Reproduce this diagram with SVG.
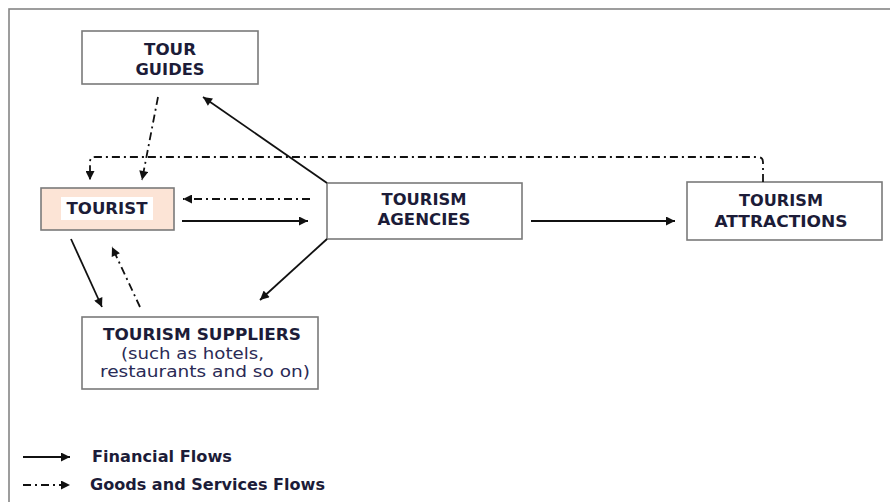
<svg xmlns="http://www.w3.org/2000/svg" width="890" height="502" viewBox="0 0 890 502">
<defs>
<marker id="ah" viewBox="0 0 10 10" refX="10" refY="5" markerWidth="11" markerHeight="9" markerUnits="userSpaceOnUse" orient="auto">
<path d="M0,0 L10,5 L0,10 z" fill="#111"/>
</marker>
<style>
.box{fill:#fff;stroke:#7a7a7a;stroke-width:1.6}
.t{font-family:"DejaVu Sans",Verdana,sans-serif;font-weight:bold;font-size:15px;fill:#1c1c38;text-anchor:middle}
.r{font-family:"DejaVu Sans",Verdana,sans-serif;font-size:15.5px;fill:#2a2a55}
.lg{font-family:"DejaVu Sans",Verdana,sans-serif;font-weight:bold;font-size:15px;fill:#1c1c38}
.fin{fill:none;stroke:#111;stroke-width:1.8;marker-end:url(#ah)}
.gs{fill:none;stroke:#111;stroke-width:1.8;stroke-dasharray:8 4 2 4;marker-end:url(#ah)}
</style>
</defs>
<rect width="890" height="502" fill="#fff"/>
<rect x="9" y="9" width="900" height="520" fill="none" stroke="#858585" stroke-width="1.6"/>

<g id="tour-guides">
<rect class="box" x="82" y="31" width="176" height="53"/>
<text class="t" x="170" y="55" textLength="52" lengthAdjust="spacingAndGlyphs">TOUR</text>
<text class="t" x="170" y="75" textLength="69" lengthAdjust="spacingAndGlyphs">GUIDES</text>
</g>

<g id="tourist">
<rect x="41" y="188" width="133" height="42" fill="#fce4d6" stroke="#7a7a7a" stroke-width="1.6"/>
<rect x="61" y="197" width="92" height="23" fill="#fff"/>
<text class="t" x="107" y="214" textLength="81" lengthAdjust="spacingAndGlyphs">TOURIST</text>
</g>

<g id="tourism-agencies">
<rect class="box" x="327" y="183" width="195" height="56"/>
<text class="t" x="424" y="205" textLength="85" lengthAdjust="spacingAndGlyphs">TOURISM</text>
<text class="t" x="424" y="225" textLength="93" lengthAdjust="spacingAndGlyphs">AGENCIES</text>
</g>

<g id="tourism-attractions">
<rect class="box" x="687" y="182" width="195" height="58"/>
<text class="t" x="781" y="206" textLength="84" lengthAdjust="spacingAndGlyphs">TOURISM</text>
<text class="t" x="781" y="227" textLength="133" lengthAdjust="spacingAndGlyphs">ATTRACTIONS</text>
</g>

<g id="tourism-suppliers">
<rect class="box" x="82" y="317" width="236" height="72"/>
<text class="t" x="202" y="340" textLength="198" lengthAdjust="spacingAndGlyphs">TOURISM SUPPLIERS</text>
<text class="r" x="121" y="359" textLength="143" lengthAdjust="spacingAndGlyphs">(such as hotels,</text>
<text class="r" x="100" y="377" textLength="210" lengthAdjust="spacingAndGlyphs">restaurants and so on)</text>
</g>

<g id="connectors">
<path class="gs" d="M158,97 L142,180"/>
<path class="fin" d="M327,183 L203,97"/>
<path class="gs" d="M763,182 L763,162 Q763,157 758,157 L95,157 Q90,157 90,162 L90,180"/>
<path class="gs" d="M310,199 L183,199"/>
<path class="fin" d="M182,221 L308,221"/>
<path class="fin" d="M531,221 L675,221"/>
<path class="fin" d="M327,239 L260,300"/>
<path class="fin" d="M71,239 L102,307"/>
<path class="gs" d="M140,307 L112,247"/>
</g>

<g id="legend">
<path class="fin" d="M23,457 L70,457"/>
<text class="lg" x="92" y="462" textLength="140" lengthAdjust="spacingAndGlyphs">Financial Flows</text>
<path class="gs" d="M23,485 L70,485"/>
<text class="lg" x="90" y="490" textLength="235" lengthAdjust="spacingAndGlyphs">Goods and Services Flows</text>
</g>
</svg>
